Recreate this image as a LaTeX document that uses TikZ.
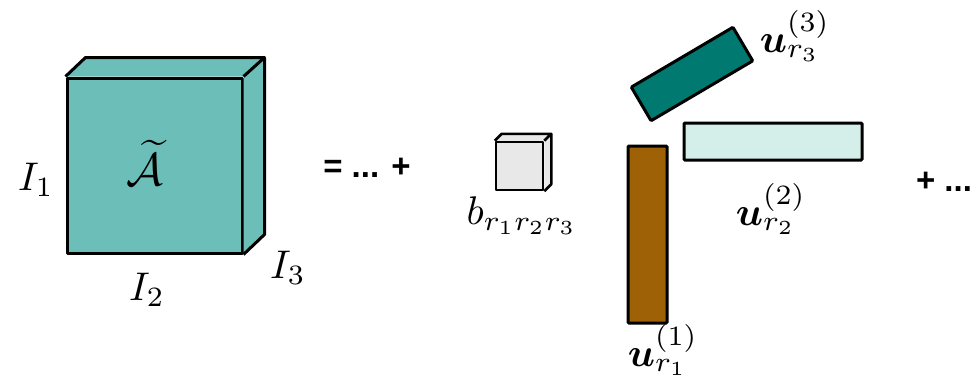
\documentclass[tikz,border=0pt]{standalone}
\usepackage{fontspec}
\usepackage{amsmath,bm}
\newfontfamily\opfont{Liberation Sans}
\definecolor{cubeA}{RGB}{107,191,184}
\definecolor{darkteal}{RGB}{0,121,112}
\definecolor{lightcyan}{RGB}{212,238,234}
\definecolor{brownbar}{RGB}{158,97,6}
\definecolor{coregray}{RGB}{232,232,232}
\tikzset{
  face/.style={draw=black, line width=3pt, line join=round},
  bar/.style={draw=black, line width=3pt, inner sep=0pt, rounded corners=1pt},
  lbl/.style={inner sep=0pt, font=\normalsize, scale=4, transform shape},
  op/.style={inner sep=0pt, font=\opfont\bfseries\fontsize{33}{40}\selectfont}
}
\begin{document}
\begin{tikzpicture}[x=1pt,y=-1pt]
\useasboundingbox (0,0) rectangle (979,380);
% big tensor
\node[face, fill=cubeA, minimum width=175pt, minimum height=175pt, inner sep=0pt] (A) at (154.5,165.5) {};
\fill[cubeA] (A.north west) -- ++(20,-19) -- ([shift={(21,-19)}]A.north east) -- (A.north east) -- cycle;
\fill[cubeA] (A.north east) -- ++(21,-19) -- ([shift={(21,-20)}]A.south east) -- (A.south east) -- cycle;
\draw[face] (A.north west) -- ++(20,-19) -- ([shift={(21,-19)}]A.north east) -- (A.north east);
\draw[face] ([shift={(21,-19)}]A.north east) -- ([shift={(21,-20)}]A.south east) -- (A.south east);
\node[lbl, scale=1.15] (At) at (145,163) {$\widetilde{\mathcal{A}}$};
\node[lbl] (I1) at (36,180) {$I_1$};
\node[lbl] (I2) at (147,290) {$I_2$};
\node[lbl] (I3) at (288,268) {$I_3$};
% equals
\node[op] (eq) at (367,168) {= ... +};
% core
\node[face, line width=2.5pt, fill=coregray, minimum width=47pt, minimum height=48pt, inner sep=0pt] (B) at (519.5,166) {};
\fill[coregray] (B.north west) -- ++(7,-7) -- ([shift={(7,-7)}]B.north east) -- (B.north east) -- cycle;
\fill[coregray] (B.north east) -- ++(7,-7) -- ([shift={(7,-7)}]B.south east) -- (B.south east) -- cycle;
\draw[face, line width=2.5pt] (B.north west) -- ++(7,-7) -- ([shift={(7,-7)}]B.north east) -- (B.north east);
\draw[face, line width=2.5pt] ([shift={(7,-7)}]B.north east) -- ([shift={(7,-7)}]B.south east) -- (B.south east);
\node[lbl] (b) at (522,216) {$b_{r_1 r_2 r_3}$};
% factor vectors
\node[bar, fill=darkteal, minimum width=118pt, minimum height=39pt, rotate=30.5] (U3) at (692,74) {};
\node[bar, fill=lightcyan, minimum width=178pt, minimum height=37pt] (U2) at (773,141.5) {};
\node[bar, fill=brownbar, minimum width=39pt, minimum height=177pt] (U1) at (647.5,234.5) {};
\node[lbl] (u3) at (795,36) {$\bm{u}_{r_3}^{(3)}$};
\node[lbl] (u2) at (771,209) {$\bm{u}_{r_2}^{(2)}$};
\node[lbl] (u1) at (663,350) {$\bm{u}_{r_1}^{(1)}$};
\node[op] (pl) at (944,182) {+ ...};
\end{tikzpicture}
\end{document}
